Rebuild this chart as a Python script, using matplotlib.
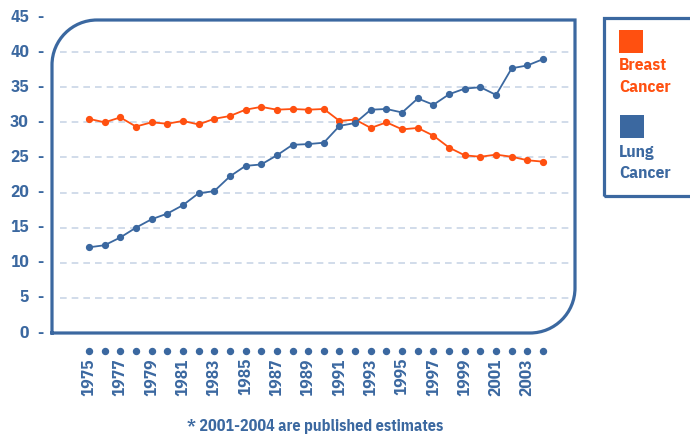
import matplotlib
matplotlib.use("Agg")
import matplotlib.pyplot as plt
from matplotlib.path import Path
from matplotlib.patches import PathPatch, Rectangle

plt.rcParams['font.family'] = ['IBM Plex Sans Condensed', 'DejaVu Sans']
plt.rcParams['font.weight'] = 'bold'

BLUE = '#3b68a0'
ORANGE = '#ff5010'
GRID = '#c9d6e6'

# data
years = list(range(1975, 2005))
breast = [30.5, 30.0, 30.7, 29.4, 30.0, 29.8, 30.2, 29.7, 30.5, 30.9,
          31.8, 32.2, 31.8, 31.9, 31.8, 31.9, 30.2, 30.4, 29.2, 30.0,
          29.0, 29.2, 28.1, 26.4, 25.3, 25.1, 25.4, 25.1, 24.6, 24.4]
lung = [12.2, 12.5, 13.6, 15.0, 16.2, 17.0, 18.2, 19.9, 20.2, 22.3,
        23.8, 24.0, 25.3, 26.8, 26.9, 27.1, 29.5, 29.9, 31.8, 31.9,
        31.4, 33.4, 32.5, 34.0, 34.8, 35.0, 33.9, 37.7, 38.1, 39.0]
y_ticks = [0, 5, 10, 15, 20, 25, 30, 35, 40, 45]
year_labels = list(range(1975, 2004, 2))
footnote = '* 2001-2004 are published estimates'

W, H = 690, 434
fig = plt.figure(figsize=(W / 100, H / 100), dpi=100)
ax_l, ax_r, ax_t, ax_b = 52, 575, 17, 333
ax = fig.add_axes([ax_l / W, (H - ax_b) / H, (ax_r - ax_l) / W, (ax_b - ax_t) / H])
ax.set_xlim(1972.64, 2006.04)
ax.set_ylim(0, 45)
ax.axis('off')

aw, ah = ax_r - ax_l, ax_b - ax_t
top = (ax_b - 20) / ah
rx, ry = 45 / aw, 45 / ah
k = 0.5523

# rounded frame (top-left and bottom-right corners)
verts = [(0, 0), (1 - rx, 0),
         (1 - rx + k * rx, 0), (1, ry - k * ry), (1, ry),
         (1, top), (rx, top),
         (rx - k * rx, top), (0, top - ry + k * ry), (0, top - ry),
         (0, 0)]
codes = [Path.MOVETO, Path.LINETO,
         Path.CURVE4, Path.CURVE4, Path.CURVE4,
         Path.LINETO, Path.LINETO,
         Path.CURVE4, Path.CURVE4, Path.CURVE4,
         Path.LINETO]
frame = PathPatch(Path(verts, codes), transform=ax.transAxes, fill=False,
                  edgecolor=BLUE, lw=2.3, zorder=5, clip_on=False,
                  capstyle='projecting', joinstyle='miter')
ax.add_patch(frame)

for v in y_ticks[1:-1]:
    ax.axhline(v, xmin=8 / aw, xmax=1 - 6 / aw, color=GRID, lw=1.2,
               dashes=(4, 3), zorder=1)

ax.plot(years, breast, color=ORANGE, lw=1.3, marker='o', ms=4.2,
        zorder=3, clip_on=False)
ax.plot(years, lung, color=BLUE, lw=1.3, marker='o', ms=4.2,
        zorder=3, clip_on=False)

# y tick labels with dash marks
ytr = ax.get_yaxis_transform()
for v in y_ticks:
    ax.text(-23 / aw, v, str(v), transform=ytr, ha='right', va='center',
            color=BLUE, fontsize=12.5, fontweight='bold')
    ax.text(-12 / aw, v, '-', transform=ytr, ha='center', va='center',
            color=BLUE, fontsize=12.5, fontweight='bold')

# year dots and labels
xtr = ax.get_xaxis_transform()
ax.plot(years, [-18 / ah] * len(years), 'o', color=BLUE, ms=4.3,
        transform=xtr, clip_on=False)
for yr in year_labels:
    ax.text(yr, -25 / ah, str(yr), transform=xtr, rotation=90, ha='center',
            va='top', color=BLUE, fontsize=12.5, fontweight='bold')

fig.text(315 / W, 1 - 427 / H, footnote, ha='center', va='center',
         color=BLUE, fontsize=11.6, fontweight='bold')

# legend box
fig.patches.append(Rectangle((604 / W, (H - 196) / H), 100 / W, 178 / H,
                             transform=fig.transFigure, fill=False,
                             edgecolor=BLUE, lw=2.3))
fig.patches.append(Rectangle((619 / W, (H - 53) / H), 24 / W, 23 / H,
                             transform=fig.transFigure, color=ORANGE, lw=0))
fig.patches.append(Rectangle((620 / W, (H - 138) / H), 24 / W, 23 / H,
                             transform=fig.transFigure, color=BLUE, lw=0))
fig.text(619 / W, 1 - 66 / H, 'Breast', ha='left', va='center',
         color=ORANGE, fontsize=12.5, fontweight='bold')
fig.text(619 / W, 1 - 88 / H, 'Cancer', ha='left', va='center',
         color=ORANGE, fontsize=12.5, fontweight='bold')
fig.text(619 / W, 1 - 152 / H, 'Lung', ha='left', va='center',
         color=BLUE, fontsize=12.5, fontweight='bold')
fig.text(619 / W, 1 - 174 / H, 'Cancer', ha='left', va='center',
         color=BLUE, fontsize=12.5, fontweight='bold')

fig.savefig('out.png', dpi=100)
